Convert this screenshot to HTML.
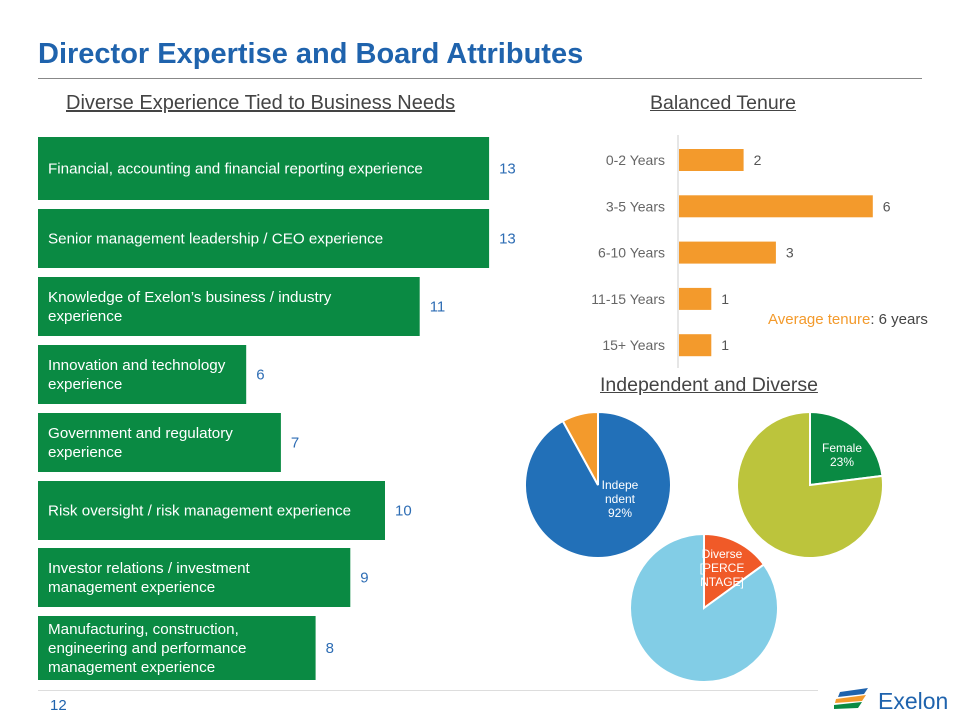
<!DOCTYPE html>
<html><head><meta charset="utf-8"><style>
body{margin:0;width:960px;height:720px;background:#fff;font-family:"Liberation Sans",sans-serif;overflow:hidden;position:relative}
.t{position:absolute;white-space:nowrap}
</style></head><body>
<div class="t" style="left:38px;top:38px;font-size:29px;font-weight:bold;color:#1f63ad">Director Expertise and Board Attributes</div>
<div style="position:absolute;left:38px;top:78px;width:884px;height:1px;background:#888"></div>
<div class="t" style="left:66px;top:92px;font-size:20px;color:#444;text-decoration:underline">Diverse Experience Tied to Business Needs</div>
<div class="t" style="left:650px;top:92px;font-size:19.5px;color:#444;text-decoration:underline">Balanced Tenure</div>
<div class="t" style="left:600px;top:374px;font-size:19.5px;color:#444;text-decoration:underline">Independent and Diverse</div>
<div class="t" style="left:768px;top:311px;font-size:15px;color:#444"><span style="color:#f39a2c">Average tenure</span>: 6 years</div>
<div class="t" style="left:50px;top:697px;font-size:15px;color:#1f63ad">12</div>
<div style="position:absolute;left:38px;top:690px;width:780px;height:1px;background:#ddd"></div>
<svg style="position:absolute;left:830px;top:680px" width="130" height="40">
<path d="M10 12 L38 8 L34 14 L8 17Z" fill="#1f63ad"/><path d="M6 19 L36 15 L32 21 L5 23Z" fill="#f39a2c"/><path d="M4 25 L32 22 L28 28 L4 29Z" fill="#0a8a43"/>
<text x="48" y="29" font-size="23" fill="#1f63ad" font-family="Liberation Sans, sans-serif">Exelon</text></svg>
<svg id="chart" width="960" height="720" style="position:absolute;left:0;top:0"></svg>
<script>
const skills=["Financial, accounting and financial reporting experience","Senior management leadership / CEO experience","Knowledge of Exelon’s business / industry|experience","Innovation and technology|experience","Government and regulatory|experience","Risk oversight / risk management experience","Investor relations / investment|management experience","Manufacturing, construction,|engineering and performance|management experience"];
const skillCounts=[13,13,11,6,7,10,9,8];
const tenureCats=["0-2 Years","3-5 Years","6-10 Years","11-15 Years","15+ Years"];
const tenureCounts=[2,6,3,1,1];
const independentPct=[92,8];
const femalePct=[23,77];
const diversePct=[15,85];
const NS="http://www.w3.org/2000/svg",svg=document.getElementById('chart');
function mk(t,a,p){const e=document.createElementNS(NS,t);for(const k in a)e.setAttribute(k,a[k]);(p||svg).appendChild(e);return e;}
const rowTops=[137,209,277,345,413,481,548,616],rowH=[63,59,59,59,59,59,59,64];
const xs=v=>v*34.7;
skills.forEach((s,i)=>{
 const w=xs(skillCounts[i]);
 const r=mk('rect',{x:38,y:rowTops[i],width:w,height:rowH[i],fill:'#0a8a43'});
 
 
 const lines=s.split('|'),cy=rowTops[i]+rowH[i]/2;
 lines.forEach((l,j)=>{const t=mk('text',{x:48,y:cy+5+(j-(lines.length-1)/2)*19,'font-size':15.2,fill:'#fff'});t.textContent=l;
 
 });
 const v=mk('text',{x:38+w+10,y:cy+5,'font-size':15,fill:'#2e6db4'});v.textContent=skillCounts[i];
 
 
});
const tx=v=>v*32.3;
const ax=mk('line',{x1:678,y1:135,x2:678,y2:368,stroke:'#ccc'});


tenureCats.forEach((c,i)=>{
 const cy=160+i*46.3;
 const r=mk('rect',{x:679,y:cy-11,width:tx(tenureCounts[i]),height:22,fill:'#f39a2c'});
 
 
 const l=mk('text',{x:665,y:cy+5,'font-size':14,fill:'#666','text-anchor':'end'});l.textContent=c;
 
 
 const v=mk('text',{x:679+tx(tenureCounts[i])+10,y:cy+5,'font-size':14,fill:'#555'});v.textContent=tenureCounts[i];
 
 
});
function pt(cx,cy,r,a){const t=a*Math.PI*2;return [cx+r*Math.sin(t),cy-r*Math.cos(t)];}
function pie(cx,cy,r,vals,colors,name){
 const tot=vals.reduce((a,b)=>a+b,0);let s=0;
 vals.forEach((v,i)=>{const f=v/tot;const a0=s,a1=s+f;s=a1;
  const p0=pt(cx,cy,r,a0),p1=pt(cx,cy,r,a1);
  const large=f>0.5?1:0;
  const p=mk('path',{d:`M${cx} ${cy}L${p0[0]} ${p0[1]}A${r} ${r} 0 ${large} 1 ${p1[0]} ${p1[1]}Z`,fill:colors[i],stroke:'#fff','stroke-width':2});
  
  });
}
pie(598,485,73,independentPct,['#2270b8','#f39a2c'],'independent');
pie(810,485,73,femalePct,['#0a8a43','#bcc43c'],'female');
pie(704,608,74,diversePct,['#f05a28','#82cde6'],'diverse');
function lbl(x,y,lines,name){lines.forEach((l,j)=>{const t=mk('text',{x:x,y:y+j*14,'font-size':12,fill:'#fff','text-anchor':'middle'});t.textContent=l;
 
 });}
lbl(620,489,['Indepe','ndent',independentPct[0]+'%'],'independent-label');
lbl(842,452,['Female',femalePct[0]+'%'],'female-label');
lbl(722,558,['Diverse','[PERCE','NTAGE]'],'diverse-label');
</script>
</body></html>
